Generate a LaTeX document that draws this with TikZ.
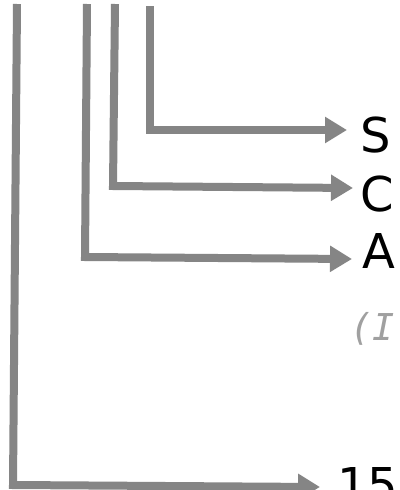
\documentclass[tikz,border=0pt]{standalone}
\usepackage{fontspec}
\setmainfont{DejaVu Sans}
\setmonofont{DejaVu Sans Mono}
\usetikzlibrary{arrows.meta}
\definecolor{linegray}{RGB}{133,133,133}
\definecolor{notegray}{RGB}{160,160,160}
\tikzset{
  conn/.style={draw=linegray, line width=8pt, line join=miter,
    -{Triangle[length=22pt,width=25pt]}},
  lbl/.style={inner sep=0pt, anchor=base west, font=\fontsize{48}{48}\selectfont, text=black},
  note/.style={inner sep=0pt, anchor=base west, font=\fontsize{37}{37}\selectfont\ttfamily\itshape, text=notegray}
}
\begin{document}
\begin{tikzpicture}[x=1pt,y=-1pt]
\useasboundingbox (0,0) rectangle (399,490);
\clip (0,0) rectangle (399,490);
\fill[white] (0,0) rectangle (399,490);
% text nodes
\node[lbl] (s) at (360,152) {S};
\node[lbl] (c) at (360,211) {C};
\node[lbl] (a) at (362,268) {A};
\node[note] (i) at (350,340) {(I};
\node[lbl] (n15) at (337,502) {15};
% coordinates
\coordinate (t1) at (17,4);
\coordinate (k1) at (13,485);
\coordinate (e1) at (320,487);
\coordinate (t2) at (87,4);
\coordinate (k2) at (85,257);
\coordinate (e2) at (352,259);
\coordinate (t3) at (115,4);
\coordinate (k3) at (113,186);
\coordinate (e3) at (353,188);
\coordinate (t4) at (150,6);
\coordinate (k4) at (150,130);
\coordinate (e4) at (347,130);
% connectors
\draw[conn] (t1) -- (k1) -- (e1);
\draw[conn] (t2) -- (k2) -- (e2);
\draw[conn] (t3) -- (k3) -- (e3);
\draw[conn] (t4) -- (k4) -- (e4);
\end{tikzpicture}
\end{document}
